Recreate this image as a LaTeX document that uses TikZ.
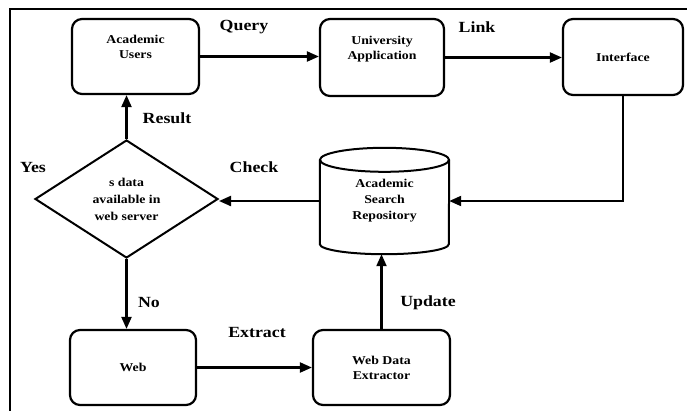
\documentclass[tikz,border=0pt]{standalone}
\usepackage{fontspec}
\setmainfont[FakeStretch=1.15]{Liberation Serif}
\usetikzlibrary{arrows.meta,shapes.geometric}
\begin{document}
\begin{tikzpicture}[x=1pt,y=-1pt,
  box/.style={draw,line width=2.2pt,rounded corners=10pt,align=center,
    font=\fontsize{12}{15}\selectfont\bfseries,inner sep=2pt},
  arr/.style={line width=2.1pt,-{Triangle[length=12pt,width=10pt]}},
  lbl/.style={font=\fontsize{15.5}{18}\selectfont\bfseries,inner sep=0pt},
  shp/.style={line width=2pt}]
\useasboundingbox (0,0) rectangle (687,410);
\fill[white] (0,0) rectangle (687,410);
\draw[line width=1.8pt] (10,415) -- (10,9) -- (692,9);

\node[box,minimum width=127pt,minimum height=75pt] (users) at (135.5,56.5) {Academic\\Users\\[4pt]};
\node[box,minimum width=124pt,minimum height=77pt] (unia) at (382,57.5) {University\\Application\\[4pt]};
\node[box,minimum width=120pt,minimum height=76pt] (intf) at (623,57) {Interface};
\node[box,minimum width=126pt,minimum height=75pt] (web) at (133,367.5) {Web};
\node[box,minimum width=137pt,minimum height=75pt] (wde) at (381.5,367.5) {Web Data\\Extractor};

\node[minimum width=129pt,minimum height=106pt,inner sep=0pt,align=center,
  font=\fontsize{12}{16}\selectfont\bfseries] (repo) at (384.5,201) {Academic\\Search\\Repository};
\draw[shp] ([yshift=-12pt]repo.north) ellipse [x radius=64.5pt, y radius=12pt];
\draw[shp] ([yshift=-12pt]repo.north west) -- ([yshift=10pt]repo.south west)
  arc[start angle=180,end angle=360,x radius=64.5pt,y radius=10pt]
  -- ([yshift=-12pt]repo.north east);

\node[diamond,draw,shp,minimum width=183pt,minimum height=118pt,inner sep=0pt,aspect=1.55,
  align=center,font=\fontsize{12}{17}\selectfont\bfseries] (dia) at (126.5,199) {s data\\available in\\web server};

\draw[arr] (users.east) -- (users.east -| unia.west);
\draw[arr] (unia.east) -- (unia.east -| intf.west);
\draw[arr] (intf.south) |- (repo.east);
\draw[arr] (repo.west) -- (repo.west -| dia.east);
\draw[arr] (dia.north) -- (dia.north |- users.south);
\draw[arr] (dia.south) -- (dia.south |- web.north);
\draw[arr] (web.east) -- (web.east -| wde.west);
\draw[arr] (wde.north) -- (wde.north |- repo.south);

\node[lbl] (lq) at (244,27) {Query};
\node[lbl] (ll) at (477,27) {Link};
\node[lbl] (lr) at (167,118) {Result};
\node[lbl] (ly) at (33,167) {Yes};
\node[lbl] (lc) at (254,167) {Check};
\node[lbl] (ln) at (149,302) {No};
\node[lbl] (le) at (257,332) {Extract};
\node[lbl] (lu) at (428,303) {Update};
\end{tikzpicture}
\end{document}
